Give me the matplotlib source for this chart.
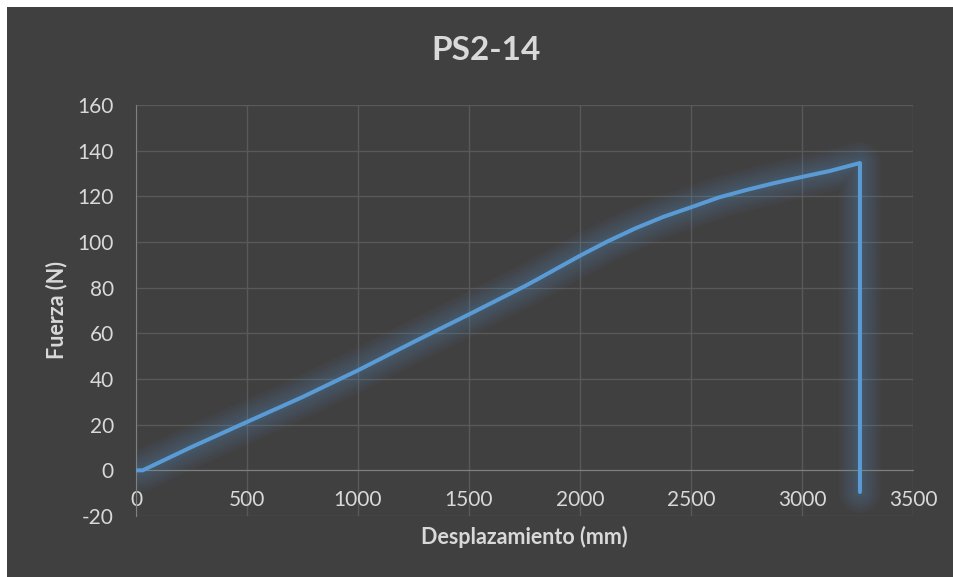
import matplotlib.pyplot as plt
from matplotlib.patches import Rectangle

# datos
desplazamiento = [0, 30, 250, 500, 750, 1000, 1250, 1500, 1750, 1820, 2000, 2125,
                  2250, 2375, 2500, 2625, 2750, 2875, 3000, 3125, 3261, 3261]
fuerza = [0, 0, 10.2, 21.2, 32.1, 43.8, 56.2, 68.3, 80.6, 84.3, 94.0, 100.3,
          106.0, 111.0, 115.2, 119.5, 122.8, 125.8, 128.5, 131.1, 134.6, -9.5]
xticks = [0, 500, 1000, 1500, 2000, 2500, 3000, 3500]
yticks = [-20, 0, 20, 40, 60, 80, 100, 120, 140, 160]

bg = '#404040'
txt = '#d9d9d9'
azul = '#5b9bd5'

plt.rcParams['font.family'] = ['Lato', 'DejaVu Sans']
plt.rcParams['axes.unicode_minus'] = False

fig = plt.figure(figsize=(9.54, 5.77), dpi=100)
fig.patch.set_facecolor(bg)
# margen blanco arriba y a la izquierda
fig.patches.append(Rectangle((0, 0), 7/954, 1, transform=fig.transFigure,
                             facecolor='white', edgecolor='none'))
fig.patches.append(Rectangle((0, 1 - 7/577), 1, 7/577, transform=fig.transFigure,
                             facecolor='white', edgecolor='none'))

ax = fig.add_axes([136/954, 1 - 516/577, (913-136)/954, (516-105)/577])
ax.set_facecolor(bg)

# brillo alrededor de la linea
for w in [30, 26, 22, 18, 14, 10, 7]:
    ax.plot(desplazamiento, fuerza, color=azul, linewidth=w, alpha=0.045,
            solid_capstyle='round', solid_joinstyle='round')
ax.plot(desplazamiento, fuerza, color=azul, linewidth=2.9,
        solid_capstyle='round', zorder=5)

ax.set_xlim(0, 3500)
ax.set_ylim(-20, 160)
ax.set_xticks(xticks)
ax.set_yticks(yticks)
ax.grid(True, color='#595959', linewidth=1)
ax.set_axisbelow(True)

for s in ['top', 'right']:
    ax.spines[s].set_visible(False)
ax.spines['bottom'].set_position(('data', 0))
ax.spines['bottom'].set_color('#7f7f7f')
ax.spines['left'].set_color('#7f7f7f')
ax.tick_params(axis='both', length=0, labelsize=15, labelcolor=txt)
ax.tick_params(axis='x', pad=14)
ax.tick_params(axis='y', pad=16)

fig.text(486/954, 1 - 50/577, 'PS2-14', ha='center', va='center',
         fontsize=24, fontweight='bold', color=txt)
fig.text(524/954, 1 - 537/577, 'Desplazamiento (mm)', ha='center', va='center',
         fontsize=15.5, fontweight='bold', color=txt)
fig.text(57/954, 1 - 310/577, 'Fuerza (N)', ha='center', va='center',
         rotation=90, fontsize=15.5, fontweight='bold', color=txt)

fig.savefig('out.png', dpi=100, facecolor=fig.get_facecolor())
